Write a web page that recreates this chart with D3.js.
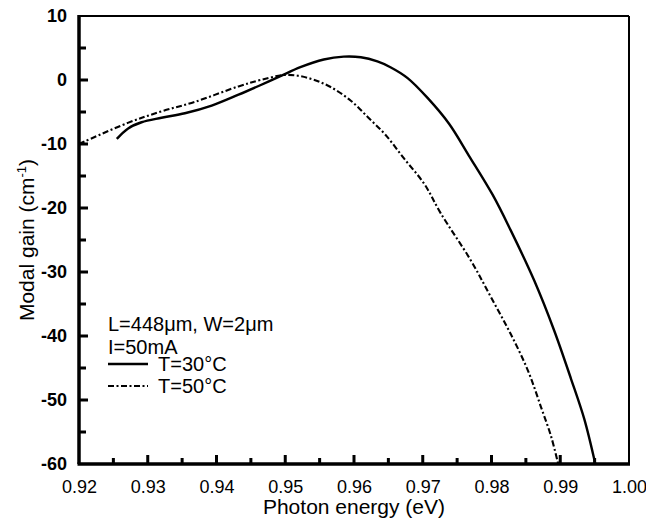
<!DOCTYPE html>
<html>
<head>
<meta charset="utf-8">
<script src="https://cdn.jsdelivr.net/npm/d3@7"></script>
<style>
  body { margin: 0; background: #fff; }
  svg { font-family: "Liberation Sans", Arial, sans-serif; }
  .curve { fill: none; stroke: #000; }
</style>
</head>
<body>
<svg id="chart"></svg>
<script>
// T = 30 C curve
var energy30 = [0.9255, 0.9271, 0.9291, 0.9320, 0.9354, 0.9393, 0.9432, 0.9462, 0.9493, 0.9522, 0.9556, 0.9585, 0.9610,
  0.9634, 0.9653, 0.9678, 0.9707, 0.9738, 0.9767, 0.9802, 0.9828, 0.9862, 0.9891, 0.9916, 0.9935, 0.9951]
var gain30 = [-9.2, -7.6, -6.6, -5.9, -5.2, -4.0, -2.3, -0.9, 0.6, 2.0, 3.2, 3.65, 3.55,
  2.9, 2.0, 0.3, -2.8, -6.8, -11.8, -18.0, -23.5, -31.3, -39.1, -46.8, -53.0, -60]

// T = 50 C curve
var energy50 = [0.9200, 0.9271, 0.9320, 0.9369, 0.9432, 0.9464, 0.9503, 0.9537, 0.9566, 0.9595, 0.9621,
  0.9646, 0.9673, 0.9702, 0.9726, 0.9770, 0.9799, 0.9828, 0.9853, 0.9872, 0.9887, 0.9897]
var gain50 = [-10, -6.7, -4.9, -3.4, -1.0, 0.0, 0.8, 0.2, -1.1, -3.2, -5.9,
  -8.6, -12.3, -16.2, -20.8, -28.2, -33.9, -39.7, -45.4, -51.1, -55.8, -60]

var xTicks = [0.92, 0.93, 0.94, 0.95, 0.96, 0.97, 0.98, 0.99, 1.00]
var yTicks = [10, 0, -10, -20, -30, -40, -50, -60]
var legendText = ["L=448\u03bcm, W=2\u03bcm", "I=50mA"]
var seriesNames = ["T=30\u00b0C", "T=50\u00b0C"]

var margin = {top: 16, right: 17, bottom: 57, left: 79},
  width = 646 - margin.left - margin.right,
  height = 521 - margin.top - margin.bottom;

var x = d3.scaleLinear().domain([0.92, 1.00]).range([0, width])
var y = d3.scaleLinear().domain([-60, 10]).range([height, 0])

var svg = d3.select("#chart")
  .attr("width", 646)
  .attr("height", 521)

var g = svg.append("g")
  .attr("transform", "translate(" + margin.left + "," + margin.top + ")")

var line = d3.line()
  .x(function(d) { return x(d[0]) })
  .y(function(d) { return y(d[1]) })
  .curve(d3.curveCatmullRom.alpha(0.5))

var data30 = d3.zip(energy30, gain30)
var data50 = d3.zip(energy50, gain50)

g.append("path")
  .datum(data30)
  .attr("class", "curve")
  .attr("stroke-width", 2.4)
  .attr("d", line)

g.append("path")
  .datum(data50)
  .attr("class", "curve")
  .attr("stroke-width", 2.1)
  .attr("stroke-dasharray", "6,2.5,2,2.5")
  .attr("d", line)

// frame
g.append("line").attr("x1", 0).attr("x2", width).attr("y1", 0).attr("y2", 0)
  .attr("stroke", "#000").attr("stroke-width", 2)
g.append("line").attr("x1", width).attr("x2", width).attr("y1", 0).attr("y2", height)
  .attr("stroke", "#000").attr("stroke-width", 2)
g.append("line").attr("x1", -1.5).attr("x2", width + 1).attr("y1", height).attr("y2", height)
  .attr("stroke", "#000").attr("stroke-width", 3.5)
g.append("line").attr("x1", 0).attr("x2", 0).attr("y1", -1).attr("y2", height)
  .attr("stroke", "#000").attr("stroke-width", 3.5)

// ticks, pointing inward
var xMinor = d3.range(0.925, 1.0, 0.01)
var yMinor = d3.range(-55, 10, 10)

g.selectAll(".xmajor").data(xTicks.slice(1, -1)).join("rect")
  .attr("x", function(d) { return x(d) - 1.5 }).attr("width", 3)
  .attr("y", height - 9).attr("height", 9)
  .attr("fill", "#000")
g.selectAll(".xminor").data(xMinor).join("rect")
  .attr("x", function(d) { return x(d) - 1.5 }).attr("width", 3)
  .attr("y", height - 6).attr("height", 6)
  .attr("fill", "#000")
g.selectAll(".ymajor").data(yTicks.slice(1, -1)).join("rect")
  .attr("y", function(d) { return y(d) - 1.5 }).attr("height", 3)
  .attr("x", 0).attr("width", 9)
  .attr("fill", "#000")
g.selectAll(".yminor").data(yMinor).join("rect")
  .attr("y", function(d) { return y(d) - 1.5 }).attr("height", 3)
  .attr("x", 0).attr("width", 7)
  .attr("fill", "#000")

// tick labels through the axes
var xAxis = g.append("g")
  .attr("transform", "translate(0," + height + ")")
  .call(d3.axisBottom(x).tickValues(xTicks).tickFormat(d3.format(".2f")).tickSize(0).tickPadding(16))
xAxis.select(".domain").remove()
xAxis.selectAll("text").attr("font-size", 18).attr("fill", "#000")
  .attr("font-family", "Liberation Sans, Arial, sans-serif")

var yAxis = g.append("g")
  .call(d3.axisLeft(y).tickValues(yTicks).tickFormat(function(d) { return String(d) })
    .tickSize(0).tickPadding(12))
yAxis.select(".domain").remove()
yAxis.selectAll("text").attr("font-size", 18).attr("fill", "#000").attr("font-weight", "bold")
  .attr("font-family", "Liberation Sans, Arial, sans-serif")

// axis titles
svg.append("text")
  .attr("x", margin.left + width / 2)
  .attr("y", 514)
  .attr("text-anchor", "middle")
  .attr("font-size", 21)
  .text("Photon energy (eV)")

var yTitle = svg.append("text")
  .attr("transform", "translate(34," + (margin.top + height / 2) + ") rotate(-90)")
  .attr("text-anchor", "middle")
  .attr("font-size", 21)
yTitle.append("tspan").text("Modal gain (cm")
yTitle.append("tspan").attr("font-size", 13).attr("dy", -8).text("-1")
yTitle.append("tspan").attr("dy", 8).text(")")

// legend
var leg = svg.append("g").attr("transform", "translate(108,0)")
legendText.forEach(function(t, i) {
  leg.append("text").attr("x", 0).attr("y", 331 + i * 23).attr("font-size", 20).text(t)
})
seriesNames.forEach(function(t, i) {
  var yy = 364 + i * 22
  leg.append("line").attr("x1", 0).attr("x2", 40).attr("y1", yy).attr("y2", yy)
    .attr("stroke", "#000")
    .attr("stroke-width", i === 0 ? 2.4 : 2.1)
    .attr("stroke-dasharray", i === 0 ? null : "6,2.5,2,2.5")
  leg.append("text").attr("x", 50).attr("y", yy + 7).attr("font-size", 20).text(t)
})
</script>
</body>
</html>
